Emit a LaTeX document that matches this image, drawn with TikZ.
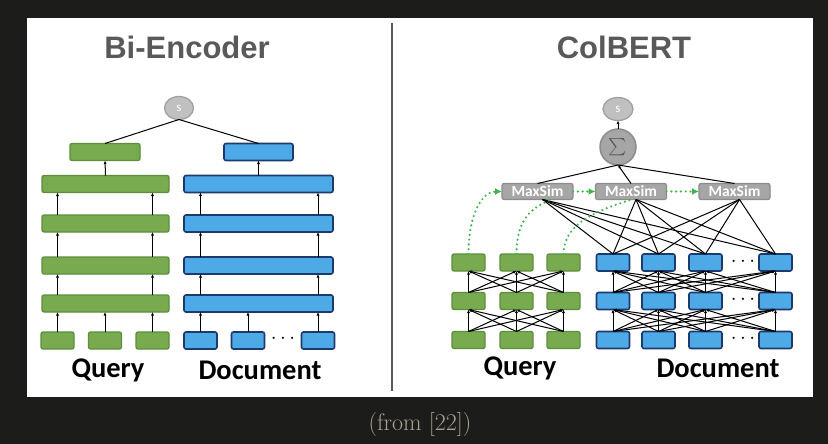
\documentclass[tikz,border=0pt]{standalone}
\usepackage{exscale}
\usepackage{fontspec}
\newfontfamily\headfont{Liberation Sans}
\newfontfamily\tokfont{Carlito}
\usetikzlibrary{arrows.meta,shapes.geometric}
\definecolor{bgdark}{HTML}{1C1C1A}
\definecolor{qfill}{HTML}{78AB50}
\definecolor{qline}{HTML}{5E8D3C}
\definecolor{dfill}{HTML}{4DAAE6}
\definecolor{dline}{HTML}{1D3A6E}
\definecolor{scorefill}{HTML}{C0C0C0}
\definecolor{scoreline}{HTML}{A0A0A0}
\definecolor{simfill}{HTML}{A6A6A6}
\definecolor{simline}{HTML}{8C8C8C}
\definecolor{dotgreen}{HTML}{3DB54A}
\definecolor{headgrey}{HTML}{595959}
\definecolor{capgrey}{HTML}{A8A192}

\begin{document}
\begin{tikzpicture}[x=1pt,y=-1pt]
\tikzstyle{every node}=[inner sep=0pt, outer sep=0pt]
\tikzstyle{qtok}=[draw=qline, fill=qfill, line width=1.3pt, rounded corners=2pt, minimum width=33pt, minimum height=17pt]
\tikzstyle{dtok}=[draw=dline, fill=dfill, line width=1.6pt, rounded corners=2pt, minimum width=33pt, minimum height=17pt]
\tikzstyle{scorenode}=[ellipse, draw=scoreline, fill=scorefill, line width=1.3pt, minimum width=29pt, minimum height=23pt, text=white, font=\tokfont\fontsize{13}{13}\selectfont]
\tikzstyle{sumnode}=[circle, draw=simline, fill=simfill, line width=1.5pt, minimum size=36pt, text=headgrey, font=\fontsize{17}{17}\selectfont]
\tikzstyle{maxsim}=[draw=simline, fill=simfill, line width=1.2pt, rounded corners=2pt, minimum width=71pt, minimum height=16pt, text=white, font=\tokfont\bfseries\fontsize{15.5}{15.5}\selectfont]
\tikzstyle{heading}=[text=headgrey, font=\headfont\bfseries\fontsize{31}{31}\selectfont]
\tikzstyle{tokenlabel}=[font=\tokfont\bfseries\fontsize{28.5}{28.5}\selectfont]
\tikzstyle{dotsnode}=[font=\fontsize{20}{20}\selectfont]
\tikzstyle{feed}=[-{Latex[length=3.5pt,width=3pt]}, line width=1pt]
\tikzstyle{wire}=[line width=1pt]
\tikzstyle{hopline}=[dotgreen, line width=2.4pt, dash pattern=on 0pt off 4.8pt, line cap=round]
\tikzstyle{hoptip}=[-{Latex[length=7pt,width=7pt]}]
% frame
\fill[bgdark] (0,0) rectangle (828,444);
\fill[white] (27,18) rectangle (813,397);
\draw[headgrey, line width=2pt] (392,23) -- (392,391);
\draw (420,425) node (caption) [text=capgrey, font=\fontsize{24}{24}\selectfont] {(from [22])};
% bi-encoder
\draw (187,47) node (bihead) [heading] {Bi-Encoder};
\draw (179,108) node (bs) [scorenode] {s};
\draw (105,152) node (bq) [qtok, minimum width=70pt] {};
\draw (258.5,152) node (bd) [dtok, minimum width=69pt] {};
\draw (105.5,184) node (bq1) [qtok, minimum width=127pt] {};
\draw (105.5,223.5) node (bq2) [qtok, minimum width=127pt] {};
\draw (105.5,265.5) node (bq3) [qtok, minimum width=127pt] {};
\draw (105.5,303.5) node (bq4) [qtok, minimum width=127pt] {};
\draw (258.5,184) node (bd1) [dtok, minimum width=149pt] {};
\draw (258.5,223.5) node (bd2) [dtok, minimum width=149pt] {};
\draw (258.5,265.5) node (bd3) [dtok, minimum width=149pt] {};
\draw (258.5,303.5) node (bd4) [dtok, minimum width=149pt] {};
\draw (57.5,340.5) node (bqt1) [qtok] {};
\draw (105,340.5) node (bqt2) [qtok] {};
\draw (152.5,340.5) node (bqt3) [qtok] {};
\draw (200.5,340.5) node (bdt1) [dtok] {};
\draw (248,340.5) node (bdt2) [dtok] {};
\draw (283,339) node (bdots) [dotsnode] {$\cdots$};
\draw (318,340.5) node (bdt3) [dtok] {};
\draw (108,370) node (bqlab) [tokenlabel] {Query};
\draw (260,370) node (bdlab) [tokenlabel] {Document};
\draw[wire] (bq.north) -- (bs.south);
\draw[wire] (bd.north) -- (bs.south);
\draw[feed] (bq1.north) -- (bq.south);
\draw[feed] (bd1.north) -- (bd.south);
\foreach \n in {1,2,3} {
  \draw[feed] (bqt\n.north) -- (bq4.south -| bqt\n);
  \draw[feed] (bdt\n.north) -- (bd4.south -| bdt\n);
}
\foreach \a/\b in {4/3,3/2,2/1}
  \foreach \n in {1,3} {
    \draw[feed] (bq\a.north -| bqt\n) -- (bq\b.south -| bqt\n);
    \draw[feed] (bd\a.north -| bdt\n) -- (bd\b.south -| bdt\n);
  }
% colbert
\draw (624,47) node (colhead) [heading] {ColBERT};
\draw (618,109) node (cs) [scorenode, minimum width=30pt] {s};
\draw (618,147) node (csum) [sumnode] {$\sum$};
\draw (537.5,191.5) node (m1) [maxsim] {MaxSim};
\draw (631,191.5) node (m2) [maxsim] {MaxSim};
\draw (734.5,191.5) node (m3) [maxsim] {MaxSim};
\foreach \x/\c in {468.5/1,516.5/2,563.5/3}
  \foreach \y/\r in {262.5/1,301/2,340/3}
    \draw (\x,\y) node (cq\r\c) [qtok] {};
\foreach \x/\c in {613/1,658.5/2,705.5/3,775.5/4}
  \foreach \y/\r in {262.5/1,301/2,340/3}
    \draw (\x,\y) node (cd\r\c) [dtok] {};
\foreach \y/\r in {262.5/1,301/2,340/3}
  \draw (743,\y-1) node (cdots\r) [dotsnode] {$\cdots$};
\draw (520,368) node (cqlab) [tokenlabel] {Query};
\draw (718,368) node (cdlab) [tokenlabel] {Document};
\draw[feed] (csum) -- (cs);
\draw[wire] (m1.north) -- (csum.south);
\draw[feed] (m2.north) -- (csum.south);
\draw[wire] (m3.north) -- (csum.south);
\foreach \a/\b in {2/1,3/2} {
  \foreach \i in {1,2,3}
    \foreach \j in {1,2,3}
      \draw[feed] (cq\a\i.north) -- (cq\b\j.south);
  \foreach \i in {1,2,3,4}
    \foreach \j in {1,2,3,4}
      \draw[feed] (cd\a\i.north) -- (cd\b\j.south);
}
\foreach \m in {1,2,3}
  \foreach \j in {1,2,3,4}
    \draw[wire] ([xshift=5pt]m\m.south) -- (cd1\j.north);
% green hops
\draw[hopline, hoptip] (cq11.north) .. controls +(0,-40) and +(-20,0) .. (m1.west);
\draw[hopline] (cq12.north) .. controls +(0,-35) and +(-20,8) .. ([xshift=14pt]m1.south);
\draw[hopline] (cq13.north) .. controls +(0,-35) and +(-22,8) .. (m2.south);
\draw[hopline, hoptip] (m1.east) -- (m2.west);
\draw[hopline, hoptip] (m2.east) -- (m3.west);
\end{tikzpicture}
\end{document}
